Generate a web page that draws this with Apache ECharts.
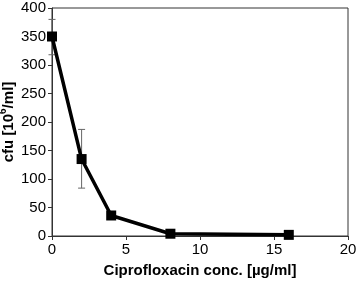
<!DOCTYPE html>
<html>
<head>
<meta charset="utf-8">
<script src="https://cdn.jsdelivr.net/npm/echarts@6/dist/echarts.min.js"></script>
<style>
  html, body { margin: 0; padding: 0; background: #fff; }
  #chart { width: 358px; height: 281px; }
</style>
</head>
<body>
<div id="chart"></div>
<script>
// ciprofloxacin concentration (µg/ml) and cfu (10^6/ml) with error
const conc = [0, 2, 4, 8, 16]
const cfu = [350, 135, 36, 4, 2]
const errLow = [318, 84, 30, 2, 1]
const errHigh = [380, 187, 42, 6, 3]

const chart = echarts.init(document.getElementById('chart'))

const lineData = conc.map((c, i) => [c, cfu[i]])
const errData = conc.map((c, i) => [c, errLow[i], errHigh[i]])

const option = {
  animation: false,
  textStyle: { fontFamily: 'Liberation Sans, Arial, sans-serif' },
  grid: {
    left: 52,
    right: 10,
    top: 8,
    bottom: 45,
    outerBoundsMode: 'none',
    containLabel: false,
    show: true,
    borderColor: '#333',
    borderWidth: 1
  },
  xAxis: {
    type: 'value',
    min: 0,
    max: 20,
    interval: 5,
    name: 'Ciprofloxacin conc. [µg/ml]',
    nameLocation: 'middle',
    nameGap: 27,
    nameMoveOverlap: false,
    nameTextStyle: { fontSize: 15, fontWeight: 'bold', color: '#000' },
    axisLine: { lineStyle: { color: '#333' } },
    axisTick: { show: true, length: 4, lineStyle: { color: '#333' } },
    axisLabel: { fontSize: 15, color: '#000', margin: 6 },
    splitLine: { show: false }
  },
  yAxis: {
    type: 'value',
    min: 0,
    max: 400,
    interval: 50,
    name: '{t|cfu [10}{s|6}{t|/ml]}',
    nameLocation: 'middle',
    nameGap: 36,
    nameMoveOverlap: false,
    nameRotate: 90,
    nameTextStyle: {
      fontSize: 15,
      fontWeight: 'bold',
      color: '#000',
      rich: {
        t: { fontSize: 15, fontWeight: 'bold', color: '#000', lineHeight: 18, verticalAlign: 'bottom' },
        s: { fontSize: 10, fontWeight: 'bold', color: '#000', lineHeight: 18, verticalAlign: 'top', padding: [0, 0, 6, 0] }
      }
    },
    axisLine: { lineStyle: { color: '#333' } },
    axisTick: { show: true, length: 4, lineStyle: { color: '#333' } },
    axisLabel: { fontSize: 15, color: '#000', margin: 6 },
    splitLine: { show: false }
  },
  series: [
    {
      type: 'custom',
      data: errData,
      z: 1,
      renderItem: (params, api) => {
        const x = api.value(0)
        const lo = api.coord([x, api.value(1)])
        const hi = api.coord([x, api.value(2)])
        const cap = 3.5
        const style = { stroke: '#666', lineWidth: 1 }
        return {
          type: 'group',
          children: [
            { type: 'line', shape: { x1: lo[0], y1: lo[1], x2: hi[0], y2: hi[1] }, style },
            { type: 'line', shape: { x1: lo[0] - cap, y1: lo[1], x2: lo[0] + cap, y2: lo[1] }, style },
            { type: 'line', shape: { x1: hi[0] - cap, y1: hi[1], x2: hi[0] + cap, y2: hi[1] }, style }
          ]
        }
      }
    },
    {
      type: 'line',
      data: lineData,
      z: 2,
      symbol: 'rect',
      symbolSize: 10,
      lineStyle: { color: '#000', width: 3.5 },
      itemStyle: { color: '#000' }
    }
  ]
}

chart.setOption(option)
</script>
</body>
</html>
